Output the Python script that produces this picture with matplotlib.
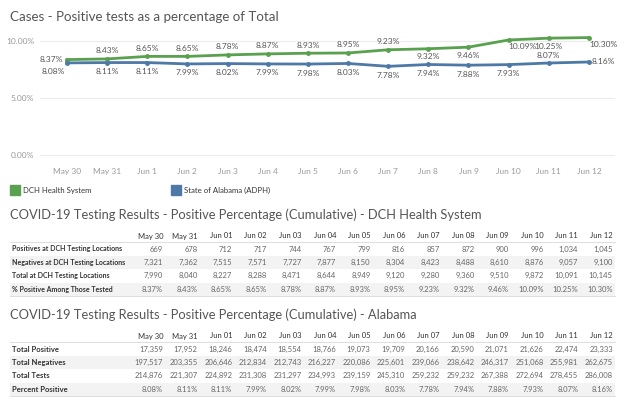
import matplotlib
matplotlib.use("Agg")
import matplotlib.pyplot as plt
from matplotlib.patches import Rectangle

plt.rcParams["font.family"] = ["Lato", "DejaVu Sans"]

# ---- data ----
chart_dates = ["May 30", "May 31", "Jun 1", "Jun 2", "Jun 3", "Jun 4", "Jun 5",
               "Jun 6", "Jun 7", "Jun 8", "Jun 9", "Jun 10", "Jun 11", "Jun 12"]
table_dates = ["May 30", "May 31", "Jun 01", "Jun 02", "Jun 03", "Jun 04", "Jun 05",
               "Jun 06", "Jun 07", "Jun 08", "Jun 09", "Jun 10", "Jun 11", "Jun 12"]

dch_pct = [8.37, 8.43, 8.65, 8.65, 8.78, 8.87, 8.93, 8.95, 9.23, 9.32, 9.46, 10.09, 10.25, 10.30]
adph_pct = [8.08, 8.11, 8.11, 7.99, 8.02, 7.99, 7.98, 8.03, 7.78, 7.94, 7.88, 7.93, 8.07, 8.16]

dch_pos = [669, 678, 712, 717, 744, 767, 799, 816, 857, 872, 900, 996, 1034, 1045]
dch_neg = [7321, 7362, 7515, 7571, 7727, 7877, 8150, 8304, 8423, 8488, 8610, 8876, 9057, 9100]
dch_total = [7990, 8040, 8227, 8288, 8471, 8644, 8949, 9120, 9280, 9360, 9510, 9872, 10091, 10145]

al_pos = [17359, 17952, 18246, 18474, 18554, 18766, 19073, 19709, 20166, 20590, 21071,
          21626, 22474, 23333]
al_neg = [197517, 203355, 206646, 212834, 212743, 216227, 220086, 225601, 239066, 238642,
          246317, 251068, 255981, 262675]
al_total = [214876, 221307, 224892, 231308, 231297, 234993, 239159, 245310, 259232, 259232,
            267388, 272694, 278455, 286008]

dch_rows = ["Positives at DCH Testing Locations", "Negatives at DCH Testing Locations",
            "Total at DCH Testing Locations", "% Positive Among Those Tested"]
al_rows = ["Total Positive", "Total Negatives", "Total Tests", "Percent Positive"]

# ---- style ----
GREEN = "#59a14f"
BLUE = "#4e79a7"
TITLE_C = "#555555"
VAL_C = "#666666"
LAB_C = "#333333"
TICK_C = "#9a9a9a"

# label placement (dx, dy in pixels, ha)
place = {
    "above": (0, 8, "center"),
    "below": (0, -8, "center"),
    "below2": (0, -9, "center"),
    "left": (-4, 0, "right"),
    "below_left": (-2, -9, "right"),
    "below_right": (0, -7, "left"),
    "right": (3, 0, "left"),
}
dch_place = ["left", "above", "above", "above", "above", "above", "above", "above",
             "above", "below", "below", "below_right", "below", "below_right"]
adph_place = ["below_left", "below2", "below2", "below2", "below2", "below2", "below2",
              "below2", "below2", "below2", "below2", "below2", "above", "right"]

fig = plt.figure(figsize=(6.24, 3.99), dpi=100)
fig.patch.set_facecolor("white")

# ---- line chart ----
ax = fig.add_axes([40 / 624, 1 - 157.9 / 399, 575 / 624, 128.3 / 399])
x = list(range(len(chart_dates)))
ax.plot(x, dch_pct, color=GREEN, lw=2, marker="o", ms=2.5, zorder=3)
ax.plot(x, adph_pct, color=BLUE, lw=2, marker="o", ms=2.5, zorder=3)

for series, places in ((dch_pct, dch_place), (adph_pct, adph_place)):
    for i, v in enumerate(series):
        dx, dy, ha = place[places[i]]
        ax.annotate(f"{v:.2f}%", (i, v), xytext=(dx, dy), textcoords="offset pixels",
                    ha=ha, va="center", fontsize=6, color="#555555")

ax.set_xlim(-0.67, 13.65)
ax.set_ylim(-0.25, 11)
ax.set_yticks([0, 5, 10])
ax.set_yticklabels(["0.00%", "5.00%", "10.00%"])
ax.set_xticks(x)
ax.set_xticklabels(chart_dates)
ax.tick_params(length=0, labelsize=6, colors=TICK_C)
ax.tick_params(axis="y", pad=4)
ax.tick_params(axis="x", pad=7)
ax.grid(axis="y", color="#ececec", lw=0.8)
ax.set_axisbelow(True)
for s in ax.spines.values():
    s.set_visible(False)

# ---- overlay in pixel coords for titles, legend, tables ----
ov = fig.add_axes([0, 0, 1, 1], zorder=-1)
ov.set_xlim(0, 624)
ov.set_ylim(399, 0)
ov.axis("off")

ov.text(10, 17, "Cases - Positive tests as a percentage of Total", fontsize=9.6,
        color=TITLE_C, va="center")

ov.add_patch(Rectangle((10, 185), 10, 10, color=GREEN))
ov.text(23, 190, "DCH Health System", fontsize=5.6, color=LAB_C, va="center")
ov.add_patch(Rectangle((171, 185), 10, 10, color=BLUE))
ov.text(184, 190, "State of Alabama (ADPH)", fontsize=5.6, color=LAB_C, va="center")


def fmt_int(v):
    return f"{v:,}"


def fmt_pct(v):
    return f"{v:.2f}%"


def draw_table(top, title, row_names, rows, label_size):
    ov.text(10, top, title, fontsize=9.3, color=TITLE_C, va="center")
    head_y = top + 21
    col_right = [163 + i * 34.6 for i in range(len(table_dates))]
    for cx, d in zip(col_right, table_dates):
        ov.text(cx, head_y, d, fontsize=5.5, color=LAB_C, ha="right", va="center")
    ov.plot([10, 615], [head_y + 6, head_y + 6], color="#dddddd", lw=0.7)
    for r, (name, vals) in enumerate(zip(row_names, rows)):
        ry = head_y + 13 + r * 13.4
        if r % 2 == 1:
            ov.add_patch(Rectangle((10, ry - 6.7), 605, 13.4, color="#f3f3f3", lw=0))
        ov.text(12, ry, name, fontsize=label_size, color=LAB_C, va="center",
                fontweight="bold")
        for cx, v in zip(col_right, vals):
            ov.text(cx, ry, v, fontsize=5.5, color=VAL_C, ha="right", va="center")
    bot = head_y + 13 + 3 * 13.4 + 6.7
    ov.plot([10, 615], [bot, bot], color="#dddddd", lw=0.7)


dch_table = [[fmt_int(v) for v in dch_pos], [fmt_int(v) for v in dch_neg],
             [fmt_int(v) for v in dch_total], [fmt_pct(v) for v in dch_pct]]
al_table = [[fmt_int(v) for v in al_pos], [fmt_int(v) for v in al_neg],
            [fmt_int(v) for v in al_total], [fmt_pct(v) for v in adph_pct]]

draw_table(215, "COVID-19 Testing Results - Positive Percentage (Cumulative) - DCH Health System",
           dch_rows, dch_table, 5)
draw_table(315, "COVID-19 Testing Results - Positive Percentage (Cumulative) - Alabama",
           al_rows, al_table, 5.5)

fig.savefig("out.png", dpi=100)
